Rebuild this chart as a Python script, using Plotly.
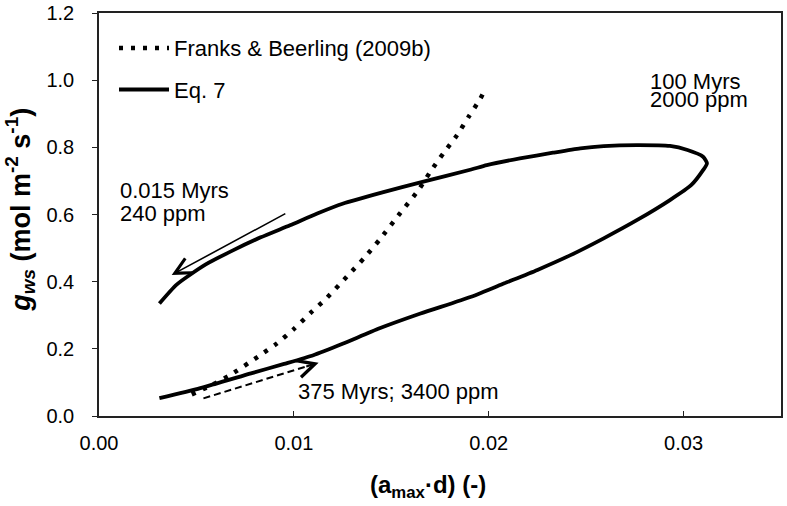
import plotly.graph_objects as go

# Eq. 7 loop: lower branch (left->right) then upper branch (right->left)
eq7_x = [0.0031, 0.0052, 0.0078, 0.0095, 0.0110, 0.0125, 0.0144, 0.0165, 0.0191, 0.0208,
         0.0225, 0.0242, 0.0259, 0.0276, 0.0293, 0.0304, 0.0310, 0.0312,
         0.0310, 0.0302, 0.0293, 0.0276, 0.0259, 0.0247, 0.0233, 0.0216, 0.0199, 0.0191,
         0.0166, 0.0145, 0.0125, 0.0112, 0.0098, 0.0083, 0.0069, 0.0055, 0.0040, 0.0031]
eq7_y = [0.053, 0.083, 0.127, 0.155, 0.181, 0.215, 0.261, 0.305, 0.355, 0.395,
         0.435, 0.479, 0.529, 0.583, 0.643, 0.688, 0.732, 0.752,
         0.772, 0.792, 0.804, 0.8065, 0.8036, 0.797, 0.784, 0.767, 0.747, 0.734,
         0.697, 0.665, 0.632, 0.603, 0.568, 0.532, 0.494, 0.452, 0.392, 0.335]

# Franks & Beerling (2009b)
fb_x = [0.00476, 0.00579, 0.00673, 0.00817, 0.00913, 0.00998, 0.01084, 0.01161, 0.0128,
        0.0136, 0.0144, 0.0154, 0.0164, 0.0170, 0.01767, 0.01837, 0.01897, 0.01957, 0.01983]
fb_y = [0.0645, 0.092, 0.122, 0.177, 0.216, 0.258, 0.306, 0.347, 0.420,
        0.470, 0.525, 0.600, 0.673, 0.727, 0.782, 0.836, 0.891, 0.945, 0.975]

# arrows: [start_x, start_y, tip_x, tip_y]
arrow_back = [0.00964, 0.605, 0.00373, 0.420]
arrow_fwd = [0.00536, 0.0526, 0.01127, 0.1587]

x_ticks = [0.00, 0.01, 0.02, 0.03]
x_tick_labels = ["0.00", "0.01", "0.02", "0.03"]
y_ticks = [0.0, 0.2, 0.4, 0.6, 0.8, 1.0, 1.2]
y_tick_labels = ["0.0", "0.2", "0.4", "0.6", "0.8", "1.0", "1.2"]

# annotation texts: (x, y, text)
labels = [
    (0.00103, 0.672, "0.015 Myrs"),
    (0.00103, 0.603, "240 ppm"),
    (0.0282, 0.997, "100 Myrs"),
    (0.0282, 0.942, "2000 ppm"),
    (0.01017, 0.074, "375 Myrs; 3400 ppm"),
]

x_title = "<b>(a<sub>max</sub>·d) (-)</b>"
y_title = "<b><i>g</i><sub><i>ws</i></sub> (mol m<sup>-2</sup> s<sup>-1</sup>)</b>"

FONT = "Liberation Sans, Arial, sans-serif"
FS = 22
TICK_FS = 20

fig = go.Figure()
fig.add_trace(go.Scatter(
    x=fb_x, y=fb_y, mode="lines", name="Franks & Beerling (2009b)",
    line=dict(color="black", width=4.5, dash="4px,8px", shape="spline", smoothing=0.6),
    legendgroup="a",
))
fig.add_trace(go.Scatter(
    x=eq7_x, y=eq7_y, mode="lines", name="Eq. 7",
    line=dict(color="black", width=3.8, shape="spline", smoothing=0.6),
    legendgroup="b",
))

# dashed forward arrow: dashed shaft + arrowhead on the last part
head_frac = 0.12
fwd_hx = arrow_fwd[2] - head_frac * (arrow_fwd[2] - arrow_fwd[0])
fwd_hy = arrow_fwd[3] - head_frac * (arrow_fwd[3] - arrow_fwd[1])
fig.add_shape(type="line", xref="x", yref="y",
              x0=arrow_fwd[0], y0=arrow_fwd[1], x1=fwd_hx, y1=fwd_hy,
              line=dict(color="black", width=2, dash="7px,4px"))
fig.add_annotation(x=arrow_fwd[2], y=arrow_fwd[3], xref="x", yref="y",
                   ax=fwd_hx, ay=fwd_hy, axref="x", ayref="y", text="", showarrow=True,
                   arrowhead=5, arrowsize=1.7, arrowwidth=2, arrowcolor="black")
# solid backward arrow
fig.add_annotation(x=arrow_back[2], y=arrow_back[3], xref="x", yref="y",
                   ax=arrow_back[0], ay=arrow_back[1], axref="x", ayref="y",
                   text="", showarrow=True,
                   arrowhead=5, arrowsize=2.0, arrowwidth=1.6, arrowcolor="black")

for (lx, ly, t) in labels:
    fig.add_annotation(x=lx, y=ly, xref="x", yref="y", text=t, showarrow=False,
                       xanchor="left", yanchor="middle", borderpad=0,
                       font=dict(family=FONT, size=FS, color="black"))

# axis titles
fig.add_annotation(x=0.4817, y=-0.176, xref="paper", yref="paper", text=x_title,
                   showarrow=False, xanchor="center", yanchor="middle",
                   font=dict(family=FONT, size=24, color="black"))
fig.add_annotation(x=-0.1158, y=0.512, xref="paper", yref="paper", text=y_title,
                   showarrow=False, xanchor="center", yanchor="middle", textangle=-90,
                   font=dict(family=FONT, size=27, color="black"))

axis_common = dict(
    showline=True, linecolor="#222", linewidth=1.5, mirror=True,
    showgrid=False, zeroline=False, automargin=False,
    tickfont=dict(family=FONT, size=TICK_FS, color="black"),
    ticklen=5, tickwidth=1.3, tickcolor="#222",
)

fig.update_layout(
    width=787, height=506,
    margin=dict(l=99, r=6, t=13, b=90),
    paper_bgcolor="white", plot_bgcolor="white",
    font=dict(family=FONT, size=FS, color="black"),
    showlegend=True,
    legend=dict(x=0.022, y=0.965, xanchor="left", yanchor="top",
                bgcolor="rgba(0,0,0,0)", borderwidth=0,
                font=dict(family=FONT, size=FS, color="black"),
                itemwidth=50, tracegroupgap=10, traceorder="grouped"),
    xaxis=dict(range=[0, 0.035], tickvals=x_ticks, ticktext=x_tick_labels,
               ticks="inside", ticklabelstandoff=8, **axis_common),
    yaxis=dict(range=[0, 1.2], tickvals=y_ticks, ticktext=y_tick_labels,
               ticks="outside", ticklabelstandoff=14, **axis_common),
)

# remove the default 8px page margin so the figure fills the window exactly
fig.write_html("out.html", config={"displayModeBar": False},
               post_script="document.body.style.margin='0';")
